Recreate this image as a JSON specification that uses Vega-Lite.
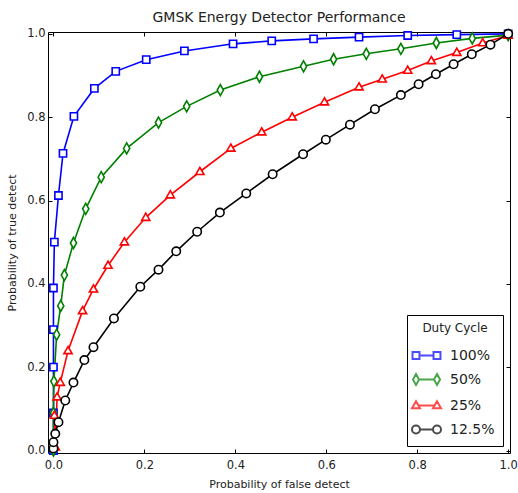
{
  "$schema": "https://vega.github.io/schema/vega-lite/v6.json",
  "autosize": {"type": "none"},
  "padding": {"left": 48, "top": 32, "right": 8, "bottom": 40},
  "width": 462,
  "height": 421,
  "background": "white",
  "title": {"text": "GMSK Energy Detector Performance", "fontSize": 14, "fontWeight": "normal", "font": "DejaVu Sans", "color": "#222", "offset": 1, "anchor": "middle"},
  "config": {
    "view": {"stroke": "black", "strokeWidth": 1},
    "font": "DejaVu Sans",
    "axis": {"grid": false, "domain": false, "tickColor": "black", "tickWidth": 1, "labelColor": "#222", "titleColor": "#222", "labelFontSize": 11.5, "titleFontSize": 11, "titleFontWeight": "normal", "labelFlush": false, "labelOverlap": false, "labelBound": false}
  },
  "data": {"values": [
    {"s": "100%", "x": 0.0, "y": 0.0},
    {"s": "100%", "x": 0.0, "y": 0.09},
    {"s": "100%", "x": 0.0, "y": 0.2},
    {"s": "100%", "x": 0.0, "y": 0.29},
    {"s": "100%", "x": 0.0, "y": 0.39},
    {"s": "100%", "x": 0.002, "y": 0.5},
    {"s": "100%", "x": 0.011, "y": 0.612},
    {"s": "100%", "x": 0.021, "y": 0.713},
    {"s": "100%", "x": 0.045, "y": 0.802},
    {"s": "100%", "x": 0.09, "y": 0.869},
    {"s": "100%", "x": 0.137, "y": 0.91},
    {"s": "100%", "x": 0.204, "y": 0.938},
    {"s": "100%", "x": 0.288, "y": 0.959},
    {"s": "100%", "x": 0.395, "y": 0.976},
    {"s": "100%", "x": 0.48, "y": 0.983},
    {"s": "100%", "x": 0.572, "y": 0.988},
    {"s": "100%", "x": 0.672, "y": 0.992},
    {"s": "100%", "x": 0.779, "y": 0.996},
    {"s": "100%", "x": 0.887, "y": 0.998},
    {"s": "100%", "x": 1.0, "y": 1.0},
    {"s": "50%", "x": 0.0, "y": 0.0},
    {"s": "50%", "x": 0.0, "y": 0.09},
    {"s": "50%", "x": 0.001, "y": 0.166},
    {"s": "50%", "x": 0.007, "y": 0.278},
    {"s": "50%", "x": 0.016, "y": 0.347},
    {"s": "50%", "x": 0.024, "y": 0.421},
    {"s": "50%", "x": 0.044, "y": 0.498},
    {"s": "50%", "x": 0.071, "y": 0.58},
    {"s": "50%", "x": 0.105, "y": 0.656},
    {"s": "50%", "x": 0.161, "y": 0.725},
    {"s": "50%", "x": 0.231, "y": 0.787},
    {"s": "50%", "x": 0.293, "y": 0.826},
    {"s": "50%", "x": 0.367, "y": 0.865},
    {"s": "50%", "x": 0.453, "y": 0.897},
    {"s": "50%", "x": 0.55, "y": 0.922},
    {"s": "50%", "x": 0.616, "y": 0.939},
    {"s": "50%", "x": 0.688, "y": 0.952},
    {"s": "50%", "x": 0.764, "y": 0.964},
    {"s": "50%", "x": 0.842, "y": 0.978},
    {"s": "50%", "x": 0.921, "y": 0.989},
    {"s": "50%", "x": 1.0, "y": 0.997},
    {"s": "25%", "x": 0.004, "y": 0.008},
    {"s": "25%", "x": 0.002, "y": 0.084},
    {"s": "25%", "x": 0.008, "y": 0.128},
    {"s": "25%", "x": 0.015, "y": 0.163},
    {"s": "25%", "x": 0.032, "y": 0.239},
    {"s": "25%", "x": 0.064, "y": 0.335},
    {"s": "25%", "x": 0.088, "y": 0.387},
    {"s": "25%", "x": 0.12, "y": 0.444},
    {"s": "25%", "x": 0.156, "y": 0.5},
    {"s": "25%", "x": 0.203, "y": 0.559},
    {"s": "25%", "x": 0.257, "y": 0.613},
    {"s": "25%", "x": 0.322, "y": 0.669},
    {"s": "25%", "x": 0.39, "y": 0.725},
    {"s": "25%", "x": 0.458, "y": 0.764},
    {"s": "25%", "x": 0.525, "y": 0.8},
    {"s": "25%", "x": 0.596, "y": 0.836},
    {"s": "25%", "x": 0.672, "y": 0.872},
    {"s": "25%", "x": 0.723, "y": 0.891},
    {"s": "25%", "x": 0.779, "y": 0.912},
    {"s": "25%", "x": 0.831, "y": 0.935},
    {"s": "25%", "x": 0.887, "y": 0.955},
    {"s": "25%", "x": 0.944, "y": 0.978},
    {"s": "25%", "x": 1.0, "y": 0.996},
    {"s": "12.5%", "x": 0.0, "y": 0.005},
    {"s": "12.5%", "x": 0.0, "y": 0.02},
    {"s": "12.5%", "x": 0.004, "y": 0.04},
    {"s": "12.5%", "x": 0.011, "y": 0.068},
    {"s": "12.5%", "x": 0.026, "y": 0.12},
    {"s": "12.5%", "x": 0.044, "y": 0.163},
    {"s": "12.5%", "x": 0.068, "y": 0.217},
    {"s": "12.5%", "x": 0.088, "y": 0.248},
    {"s": "12.5%", "x": 0.133, "y": 0.317},
    {"s": "12.5%", "x": 0.191, "y": 0.393},
    {"s": "12.5%", "x": 0.231, "y": 0.434},
    {"s": "12.5%", "x": 0.27, "y": 0.478},
    {"s": "12.5%", "x": 0.316, "y": 0.525},
    {"s": "12.5%", "x": 0.366, "y": 0.571},
    {"s": "12.5%", "x": 0.424, "y": 0.617},
    {"s": "12.5%", "x": 0.482, "y": 0.663},
    {"s": "12.5%", "x": 0.549, "y": 0.711},
    {"s": "12.5%", "x": 0.599, "y": 0.746},
    {"s": "12.5%", "x": 0.652, "y": 0.782},
    {"s": "12.5%", "x": 0.707, "y": 0.819},
    {"s": "12.5%", "x": 0.764, "y": 0.853},
    {"s": "12.5%", "x": 0.803, "y": 0.879},
    {"s": "12.5%", "x": 0.841, "y": 0.903},
    {"s": "12.5%", "x": 0.88, "y": 0.927},
    {"s": "12.5%", "x": 0.92, "y": 0.951},
    {"s": "12.5%", "x": 0.961, "y": 0.974},
    {"s": "12.5%", "x": 1.0, "y": 1.0}
  ]},
  "layer": [
    {
      "mark": {"type": "line", "strokeWidth": 1.6, "clip": false},
      "encoding": {
        "x": {"field": "x", "type": "quantitative", "scale": {"domain": [-0.012, 1.004], "nice": false, "zero": false},
              "axis": {"orient": "bottom", "values": [0, 0.2, 0.4, 0.6, 0.8, 1.0], "format": ".1f", "tickSize": -4, "labelPadding": 10, "title": "Probability of false detect", "titlePadding": 8}},
        "y": {"field": "y", "type": "quantitative", "scale": {"domain": [-0.006, 1.0044], "nice": false, "zero": false},
              "axis": {"orient": "left", "values": [0, 0.2, 0.4, 0.6, 0.8, 1.0], "format": ".1f", "tickSize": -4, "labelPadding": 7, "title": "Probability of true detect", "titlePadding": 9}},
        "color": {"field": "s", "type": "nominal", "scale": {"domain": ["100%", "50%", "25%", "12.5%"], "range": ["#0000ff", "#008000", "#ff0000", "#000000"]}, "legend": null},
        "detail": {"field": "s"}
      }
    },
    {
      "mark": {"type": "point", "filled": false, "fill": "white", "fillOpacity": 1, "opacity": 1, "strokeWidth": 1.6, "size": 100, "clip": false},
      "encoding": {
        "x": {"field": "x", "type": "quantitative", "scale": {"domain": [-0.012, 1.004], "nice": false, "zero": false},
              "axis": {"orient": "top", "values": [0, 0.2, 0.4, 0.6, 0.8, 1.0], "tickSize": -4, "labels": false, "title": null}},
        "y": {"field": "y", "type": "quantitative", "scale": {"domain": [-0.006, 1.0044], "nice": false, "zero": false},
              "axis": {"orient": "right", "values": [0, 0.2, 0.4, 0.6, 0.8, 1.0], "tickSize": -4, "labels": false, "title": null}},
        "color": {"field": "s", "type": "nominal", "scale": {"domain": ["100%", "50%", "25%", "12.5%"], "range": ["#0000ff", "#008000", "#ff0000", "#000000"]}, "legend": null},
        "shape": {"field": "s", "type": "nominal", "scale": {"domain": ["100%", "50%", "25%", "12.5%"], "range": ["M-0.72,-0.72H0.72V0.72H-0.72Z", "M0,-1.1L0.62,0L0,1.1L-0.62,0Z", "M0,-0.88L0.82,0.55H-0.82Z", "M0.84,0A0.84,0.84 0 1,1 -0.84,0A0.84,0.84 0 1,1 0.84,0Z"]}, "legend": null}
      }
    },
    {
      "transform": [{"filter": "false"}],
      "mark": {"type": "point", "filled": false, "strokeWidth": 2, "size": 441},
      "encoding": {
        "color": {"field": "s", "type": "nominal", "scale": {"domain": ["100%", "50%", "25%", "12.5%"], "range": ["#0000ff", "#008000", "#ff0000", "#000000"]},
                  "legend": {"title": "Duty Cycle", "orient": "bottom-right", "offset": 7}},
        "shape": {"field": "s", "type": "nominal", "scale": {"domain": ["100%", "50%", "25%", "12.5%"], "range": [
          "M-1.33,-0.33H-0.67V0.33H-1.33Z M0.67,-0.33H1.33V0.33H0.67Z M-0.67,0H0.67",
          "M-1,-0.52L-0.71,0L-1,0.52L-1.29,0Z M1,-0.52L1.29,0L1,0.52L0.71,0Z M-0.71,0H0.71",
          "M-1,-0.4L-0.62,0.26H-1.38Z M1,-0.4L1.38,0.26H0.62Z M-0.77,0H0.77",
          "M-0.62,0A0.38,0.38 0 1,1 -1.38,0A0.38,0.38 0 1,1 -0.62,0Z M1.38,0A0.38,0.38 0 1,1 0.62,0A0.38,0.38 0 1,1 1.38,0Z M-0.62,0H0.62"
        ]},
                  "legend": {"title": "Duty Cycle", "orient": "bottom-right", "offset": 7, "padding": 8, "strokeColor": "black", "fillColor": "white", "cornerRadius": 0,
                             "titleFontSize": 12, "titleFontWeight": "normal", "titleColor": "#222", "titleAnchor": "middle", "titlePadding": 9,
                             "labelFontSize": 14, "labelColor": "#222", "labelOffset": 12, "symbolSize": 441, "symbolStrokeWidth": 2, "rowPadding": 5,
                             "encode": {"symbols": {"update": {"fill": {"value": "white"}, "fillOpacity": {"value": 1}, "opacity": {"value": 1}}}}}}
      }
    }
  ],
  "resolve": {
    "scale": {"shape": "independent"},
    "axis": {"x": "independent", "y": "independent"},
    "legend": {"color": "independent", "shape": "independent"}
  }
}
